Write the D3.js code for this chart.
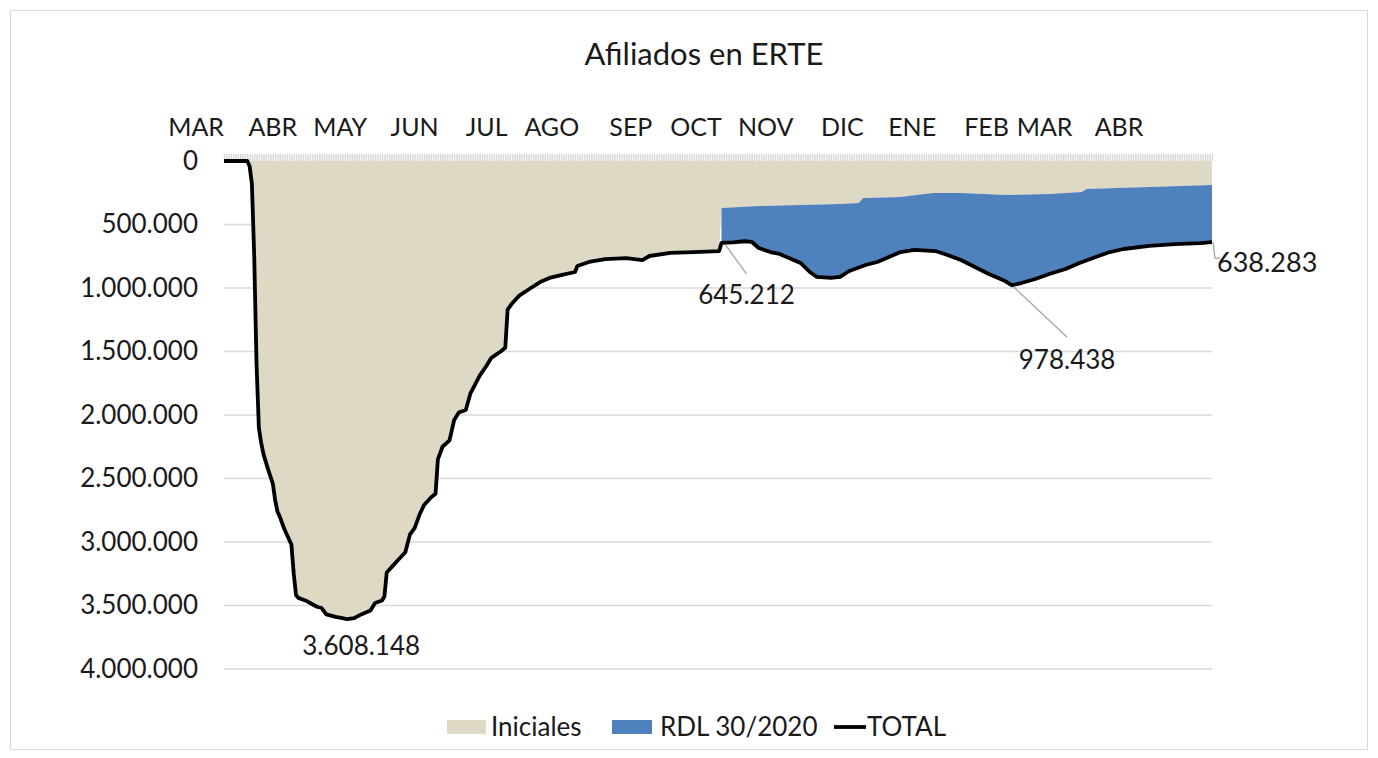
<!DOCTYPE html>
<html>
<head>
<meta charset="utf-8">
<script src="https://cdn.jsdelivr.net/npm/d3@7"></script>
<style>
  body { margin: 0; background: #fff; }
  text { font-family: Lato, "Open Sans", sans-serif; fill: #1a1a1a; }
</style>
</head>
<body>
<div id="chart"></div>
<script>
// TOTAL afiliados en ERTE
const totalDates = [
  "2020-03-01","2020-03-11","2020-03-12","2020-03-13","2020-03-14","2020-03-15","2020-03-16","2020-03-17",
  "2020-03-18","2020-03-20","2020-03-22","2020-03-23","2020-03-24","2020-03-25","2020-03-27","2020-03-29",
  "2020-03-30","2020-03-31","2020-04-01","2020-04-02","2020-04-05","2020-04-08","2020-04-10","2020-04-12",
  "2020-04-14","2020-04-18","2020-04-21","2020-04-23","2020-04-26","2020-04-29","2020-05-03","2020-05-05",
  "2020-05-08","2020-05-09","2020-05-10","2020-05-12","2020-05-15","2020-05-18","2020-05-20","2020-05-22",
  "2020-05-24","2020-05-26","2020-05-29","2020-05-31","2020-06-01","2020-06-03","2020-06-06","2020-06-08",
  "2020-06-10","2020-06-13","2020-06-15","2020-06-17","2020-06-19","2020-06-22","2020-06-24","2020-06-28",
  "2020-06-30","2020-07-01","2020-07-03","2020-07-06","2020-07-11","2020-07-15","2020-07-19","2020-07-24",
  "2020-07-30","2020-07-31","2020-08-05","2020-08-12","2020-08-21","2020-08-28","2020-08-31","2020-09-09",
  "2020-09-19","2020-09-30","2020-10-01","2020-10-06","2020-10-11","2020-10-14","2020-10-17","2020-10-22",
  "2020-10-26","2020-10-30","2020-11-04","2020-11-08","2020-11-11","2020-11-17","2020-11-21","2020-11-25",
  "2020-12-02","2020-12-07","2020-12-12","2020-12-17","2020-12-23","2021-01-01","2021-01-05","2021-01-12",
  "2021-01-18","2021-01-24","2021-01-31","2021-02-03","2021-02-07","2021-02-13","2021-02-19","2021-02-26",
  "2021-03-04","2021-03-11","2021-03-17","2021-03-23","2021-04-03","2021-04-14","2021-04-25","2021-04-30"
];
const totalValues = [
  0, 0, 40000, 180000, 750000, 1600000, 2100000, 2220000,
  2310000, 2430000, 2540000, 2670000, 2760000, 2800000, 2900000, 2980000,
  3020000, 3250000, 3420000, 3440000, 3460000, 3490000, 3510000, 3520000,
  3570000, 3590000, 3600000, 3608148, 3600000, 3570000, 3540000, 3480000,
  3460000, 3430000, 3240000, 3200000, 3140000, 3080000, 2940000, 2890000,
  2790000, 2710000, 2650000, 2620000, 2350000, 2250000, 2200000, 2040000,
  1980000, 1960000, 1830000, 1760000, 1690000, 1610000, 1550000, 1500000,
  1470000, 1170000, 1120000, 1060000, 1000000, 953000, 921000, 898000,
  874000, 827000, 795000, 772000, 764000, 780000, 748000, 724000,
  717000, 709000, 645212, 640000, 632000, 636000, 685000, 717000,
  732000, 764000, 803000, 874000, 913000, 921000, 913000, 866000,
  819000, 795000, 756000, 717000, 700000, 709000, 732000, 780000,
  835000, 890000, 945000, 978438, 961000, 929000, 890000, 850000,
  803000, 756000, 717000, 693000, 669000, 654000, 646000, 638283
];

// Iniciales from 1 Oct 2020 (before that date Iniciales == TOTAL)
const inicialesDates = [
  "2020-10-01","2020-10-17","2020-11-04","2020-11-21","2020-11-29","2020-12-01","2020-12-17","2020-12-31",
  "2021-01-12","2021-02-01","2021-02-19","2021-03-05","2021-03-07","2021-04-03","2021-04-30"
];
const inicialesValues = [
  370000, 354000, 346000, 339000, 331000, 291000, 283000, 252000,
  252000, 268000, 260000, 244000, 220000, 205000, 189000
];

const yTicks = [0, 500000, 1000000, 1500000, 2000000, 2500000, 3000000, 3500000, 4000000];
const monthLabels = ["MAR","ABR","MAY","JUN","JUL","AGO","SEP","OCT","NOV","DIC","ENE","FEB","MAR","ABR"];
const monthLabelDates = [
  "2020-02-18","2020-03-22","2020-04-20","2020-05-22","2020-06-22","2020-07-20","2020-08-23",
  "2020-09-20","2020-10-20","2020-11-22","2020-12-22","2021-01-23","2021-02-17","2021-03-21"
];
const seriesNames = ["Iniciales", "RDL 30/2020", "TOTAL"];

const W = 1378, H = 758;
const colIni = "#ddd9c4", colRdl = "#4f81bd";
const parse = d3.timeParse("%Y-%m-%d");
const es = d3.formatLocale({ decimal: ",", thousands: ".", grouping: [3], currency: ["", "€"] });
const fmt = es.format(",d");

const total = totalDates.map((d, i) => ({ date: parse(d), value: totalValues[i] }));
const ini = inicialesDates.map((d, i) => ({ date: parse(d), value: inicialesValues[i] }));
const rdlStart = ini[0].date;

const svg = d3.select("#chart").append("svg")
  .attr("width", W).attr("height", H);

svg.append("rect")
  .attr("x", 10.5).attr("y", 10.5)
  .attr("width", W - 21).attr("height", H - 19)
  .attr("fill", "none").attr("stroke", "#d9d9d9");

const x = d3.scaleTime()
  .domain([parse("2020-03-01"), parse("2021-04-30")])
  .range([224, 1212]);
const y = d3.scaleLinear().domain([0, 4000000]).range([161, 669]);

const line = d3.line().x(d => x(d.date)).y(d => y(d.value));

// gridlines
svg.append("g")
  .selectAll("line")
  .data(yTicks.slice(1))
  .join("line")
  .attr("x1", x.range()[0]).attr("x2", x.range()[1])
  .attr("y1", d => y(d)).attr("y2", d => y(d))
  .attr("stroke", "#d9d9d9").attr("stroke-width", 1.3);

// Iniciales area: TOTAL until Sept, then the Iniciales series
const iniArea = total.filter(d => d.date < rdlStart).concat(ini);
svg.append("path")
  .datum(iniArea)
  .attr("fill", colIni)
  .attr("d", d3.area().x(d => x(d.date)).y0(y(0)).y1(d => y(d.value)));

// RDL 30/2020 band between Iniciales and TOTAL
const rdlPoly = total.filter(d => d.date >= rdlStart).concat(ini.slice().reverse());
svg.append("path")
  .datum(rdlPoly)
  .attr("fill", colRdl)
  .attr("d", d => line(d) + "Z");

// daily tick marks along the top axis
const topAxis = svg.append("g")
  .attr("transform", `translate(0,${y(0)})`)
  .call(d3.axisTop(x).ticks(d3.timeDay.every(1)).tickSize(7).tickFormat(""));
topAxis.select(".domain").remove();
topAxis.selectAll(".tick line").attr("stroke", "#d6d6d6").attr("stroke-width", 1.4);

// TOTAL line
svg.append("path")
  .datum(total)
  .attr("fill", "none")
  .attr("stroke", "#000")
  .attr("stroke-width", 3.8)
  .attr("stroke-linejoin", "round")
  .attr("d", line);

// y axis labels
const yAxis = svg.append("g")
  .attr("transform", `translate(${x.range()[0]},0)`)
  .call(d3.axisLeft(y).tickValues(yTicks).tickSize(0).tickPadding(26).tickFormat(fmt));
yAxis.select(".domain").remove();
yAxis.selectAll("text")
  .style("font-family", "Lato, sans-serif").style("font-size", "26px").attr("fill", "#1a1a1a");

// month labels
svg.append("g")
  .selectAll("text")
  .data(monthLabels)
  .join("text")
  .attr("x", (d, i) => x(parse(monthLabelDates[i])))
  .attr("y", 136)
  .attr("text-anchor", "middle")
  .style("font-size", "25px")
  .text(d => d);

// title
svg.append("text")
  .attr("x", 704).attr("y", 65)
  .attr("text-anchor", "middle")
  .style("font-size", "31px")
  .text("Afiliados en ERTE");

// data labels
const minPt = total.find(d => d.value === 3608148);
svg.append("text")
  .attr("x", x(minPt.date) + 14).attr("y", y(minPt.value) + 36)
  .attr("text-anchor", "middle").style("font-size", "26px")
  .text(fmt(minPt.value));

const octPt = total.find(d => +d.date === +rdlStart);
svg.append("line")
  .attr("x1", x(octPt.date) + 4).attr("y1", y(octPt.value) + 2)
  .attr("x2", x(octPt.date) + 25).attr("y2", y(octPt.value) + 31)
  .attr("stroke", "#a6a6a6").attr("stroke-width", 1.3);
svg.append("text")
  .attr("x", x(octPt.date) + 25).attr("y", y(octPt.value) + 61)
  .attr("text-anchor", "middle").style("font-size", "26px")
  .text(fmt(octPt.value));

const febPt = total.find(d => d.value === 978438);
svg.append("line")
  .attr("x1", x(febPt.date) + 2).attr("y1", y(febPt.value) + 2)
  .attr("x2", x(febPt.date) + 55).attr("y2", y(febPt.value) + 52)
  .attr("stroke", "#a6a6a6").attr("stroke-width", 1.3);
svg.append("text")
  .attr("x", x(febPt.date) + 55).attr("y", y(febPt.value) + 84)
  .attr("text-anchor", "middle").style("font-size", "26px")
  .text(fmt(febPt.value));

const endPt = total[total.length - 1];
svg.append("polyline")
  .attr("points", [[x(endPt.date) + 1, y(endPt.value)], [x(endPt.date) + 3, y(endPt.value) + 16], [x(endPt.date) + 8, y(endPt.value) + 16]].join(" "))
  .attr("fill", "none").attr("stroke", "#a6a6a6").attr("stroke-width", 1.3);
svg.append("text")
  .attr("x", x(endPt.date) + 5).attr("y", y(endPt.value) + 30)
  .style("font-size", "27px")
  .text(fmt(endPt.value));

// legend
const lg = svg.append("g").attr("transform", "translate(0,727)");
lg.append("rect").attr("x", 447).attr("y", -7).attr("width", 39).attr("height", 14).attr("fill", colIni);
lg.append("text").attr("x", 491).attr("y", 9).style("font-size", "26px").text(seriesNames[0]);
lg.append("rect").attr("x", 612).attr("y", -7).attr("width", 40).attr("height", 14).attr("fill", colRdl);
lg.append("text").attr("x", 660).attr("y", 9).style("font-size", "26px").text(seriesNames[1]);
lg.append("line").attr("x1", 834).attr("x2", 866).attr("y1", 0).attr("y2", 0)
  .attr("stroke", "#000").attr("stroke-width", 3.8);
lg.append("text").attr("x", 867).attr("y", 9).style("font-size", "26px").text(seriesNames[2]);
</script>
</body>
</html>
